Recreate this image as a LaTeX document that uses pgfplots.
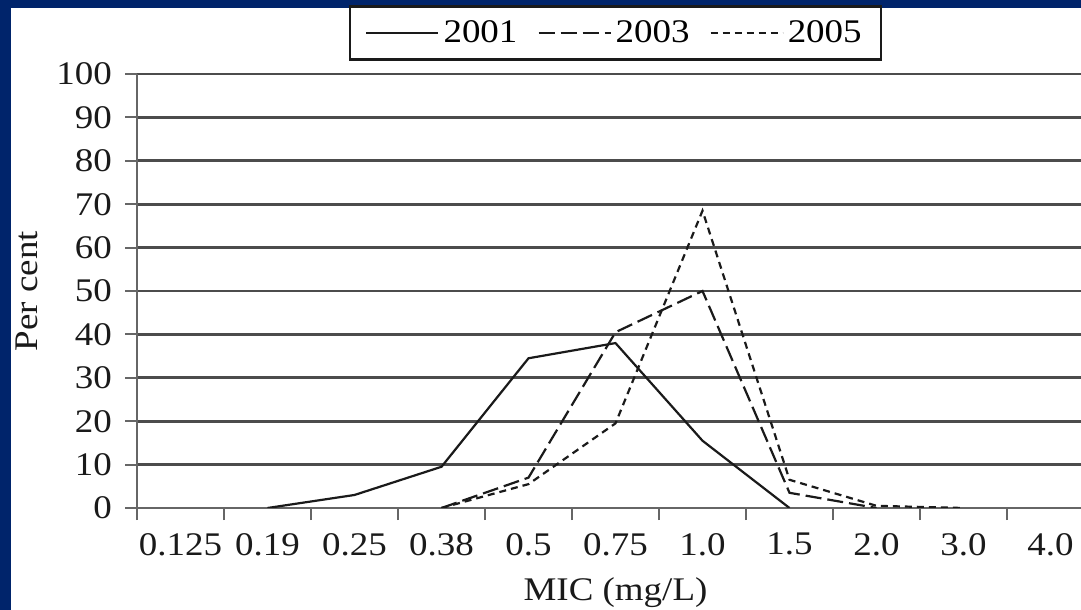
\documentclass[border=0pt]{standalone}
\usepackage{pgfplots}
\pgfplotsset{compat=1.18}
\usepackage{fontspec}
\setmainfont[FakeStretch=1.12]{Liberation Serif}
\definecolor{navy}{HTML}{00246B}
\definecolor{ink}{HTML}{1A1A1A}
\begin{document}
\begin{tikzpicture}
\useasboundingbox (0,0) rectangle (540.5pt,305pt);
\fill[navy] (0,0) rectangle (540.5pt,305pt);
\fill[white] (5.5pt,0) rectangle (540.5pt,301pt);
\begin{axis}[
  at={(68.5pt,51pt)}, anchor=south west,
  scale only axis, width=478.5pt, height=217pt,
  xmin=-0.5, xmax=10.5, ymin=0, ymax=100,
  axis x line=bottom, axis y line=left,
  axis line style={-, black!60, line width=1pt},
  xtick={-0.5,0.5,...,10.5},
  x tick label as interval,
  xticklabels={0.125,0.19,0.25,0.38,0.5,0.75,1.0,1.5,2.0,3.0,4.0},
  ytick={0,10,...,100},
  ymajorgrids, grid style={black!70, line width=1.4pt},
  tick align=outside, major tick length=6pt,
  tick style={black!60, line width=1pt},
  /pgf/number format/assume math mode=true,
  tick label style={font=\fontsize{16.5}{19}\selectfont, text=ink},
  xticklabel style={yshift=-3pt},
  yticklabel style={xshift=-3pt},
  xlabel={MIC (mg/L)}, ylabel={Per cent},
  label style={font=\fontsize{16.5}{19}\selectfont, text=ink},
  xlabel style={at={(axis description cs:0.5,-0.196)}, anchor=center},
  ylabel style={at={(axis description cs:-0.115,0.5)}, anchor=center, rotate=0},
  legend columns=3,
  legend style={at={(axis description cs:0.5,1.158)}, anchor=north,
    draw=ink, line width=1.1pt, font=\fontsize{16.5}{19}\selectfont,
    inner xsep=7.5pt, inner ysep=5pt,
    /tikz/every even column/.style={column sep=8pt}},
  legend image code/.code={\draw[#1] (0pt,0pt) -- (36pt,0pt);},
]
\addplot[ink, line width=1.1pt] coordinates {(1,0) (2,3) (3,9.5) (4,34.5) (5,38) (6,15.5) (7,0)};
\addlegendentry{2001}
\addplot[ink, line width=1.1pt, dash pattern=on 8pt off 3pt] coordinates {(3,0) (4,7) (5,40.5) (6,50) (7,3.5) (8,0)};
\addlegendentry{2003}
\addplot[ink, line width=1.1pt, dash pattern=on 3.5pt off 2.5pt] coordinates {(3,0) (4,5.5) (5,19.5) (6,68.5) (7,6.5) (8,0.5) (9,0)};
\addlegendentry{2005}
\end{axis}
\end{tikzpicture}
\end{document}
